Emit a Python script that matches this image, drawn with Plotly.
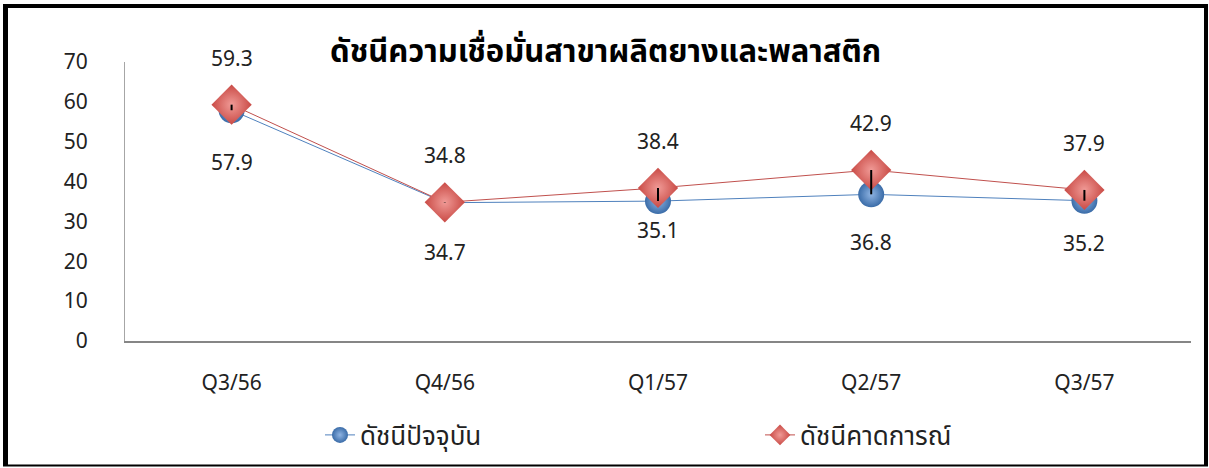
import plotly.graph_objects as go

categories = ["Q3/56", "Q4/56", "Q1/57", "Q2/57", "Q3/57"]
current_index = [57.9, 34.7, 35.1, 36.8, 35.2]
expected_index = [59.3, 34.8, 38.4, 42.9, 37.9]
y_ticks = [0, 10, 20, 30, 40, 50, 60, 70]

title_text = "ดัชนีความเชื่อมั่นสาขาผลิตยางและพลาสติก"
name_current = "ดัชนีปัจจุบัน"
name_expected = "ดัชนีคาดการณ์"

W, H = 1209, 468
ML, MR, MT, MB = 125, 18, 62, 127
PW, PH = W - ML - MR, H - MT - MB

def px_x(p):
    return (p - ML) / PW

def px_y(p):
    return (H - MB - p) / PH

FONT = "Noto Sans, Open Sans, DejaVu Sans, sans-serif"
THAI = "Noto Sans Thai, Tahoma, " + FONT
BLUE = "#4F81BD"
RED = "#C0504D"

fig = go.Figure()

fig.add_trace(go.Scatter(
    x=categories, y=current_index, name=name_current, mode="lines+markers",
    line=dict(color=BLUE, width=1),
    marker=dict(symbol="circle", size=26, color="#3A6CA8",
                gradient=dict(type="radial", color="#8FB4E3"),
                line=dict(width=0)),
))
fig.add_trace(go.Scatter(
    x=categories, y=expected_index, name=name_expected, mode="lines+markers",
    line=dict(color=RED, width=1),
    marker=dict(symbol="diamond", size=31, color="#C94A45",
                gradient=dict(type="radial", color="#F09A96"),
                line=dict(width=0)),
))

# high-low lines between the two series
hx, hy = [], []
for c, a, b in zip(categories, current_index, expected_index):
    hx += [c, c, None]
    hy += [a, b, None]
fig.add_trace(go.Scatter(x=hx, y=hy, mode="lines", line=dict(color="black", width=2),
                         showlegend=False, hoverinfo="skip"))

below_shift = [-52, -49, -29, -48, -42]
for c, v, s in zip(categories, current_index, below_shift):
    fig.add_annotation(x=c, y=v, text=f"{v:.1f}", showarrow=False, yshift=s,
                       font=dict(family=FONT, size=21, color="#222222"))
for c, v in zip(categories, expected_index):
    fig.add_annotation(x=c, y=v, text=f"{v:.1f}", showarrow=False, yshift=47,
                       font=dict(family=FONT, size=21, color="#222222"))

fig.add_annotation(x=px_x(605), y=px_y(52), xref="paper", yref="paper",
                   xanchor="center", yanchor="middle",
                   text=f"<b>{title_text}</b>", showarrow=False,
                   font=dict(family=THAI, size=31, color="black"))

# outer frame
frame = [
    (px_x(5.5), px_y(4), px_x(5.5), px_y(466), 5),
    (px_x(3), px_y(6), px_x(1208), px_y(6), 4),
    (px_x(1206), px_y(4), px_x(1206), px_y(466), 4),
    (px_x(3), px_y(465.5), px_x(1208), px_y(465.5), 2),
]
for x0, y0, x1, y1, w in frame:
    fig.add_shape(type="line", xref="paper", yref="paper", x0=x0, y0=y0, x1=x1, y1=y1,
                  line=dict(color="black", width=w))

fig.update_layout(
    width=W, height=H,
    margin=dict(l=ML, r=MR, t=MT, b=MB, autoexpand=False),
    paper_bgcolor="white", plot_bgcolor="white",
    font=dict(family=FONT, size=20, color="#222222"),
    showlegend=True,
    legend=dict(orientation="h", x=px_x(320), y=px_y(435), xanchor="left", yanchor="middle",
                entrywidth=395, entrywidthmode="pixels", tracegroupgap=0,
                font=dict(family=THAI, size=26, color="#222222"),
                itemsizing="trace"),
    xaxis=dict(range=[-0.5, len(categories) - 0.5], showgrid=False, showline=True,
               linecolor="#868686", linewidth=2,
               ticks="", tickfont=dict(size=21), ticklabelstandoff=22, zeroline=False,
               automargin=False),
    yaxis=dict(range=[0, 70], tickvals=y_ticks, showgrid=False, showline=True,
               linecolor="#A6A6A6", linewidth=1, ticks="", zeroline=False,
               tickfont=dict(size=21), ticklabelstandoff=32, automargin=False),
)

fig.write_html("out.html", config={"displayModeBar": False},
               post_script="document.body.style.margin='0';document.body.style.overflow='hidden';")
